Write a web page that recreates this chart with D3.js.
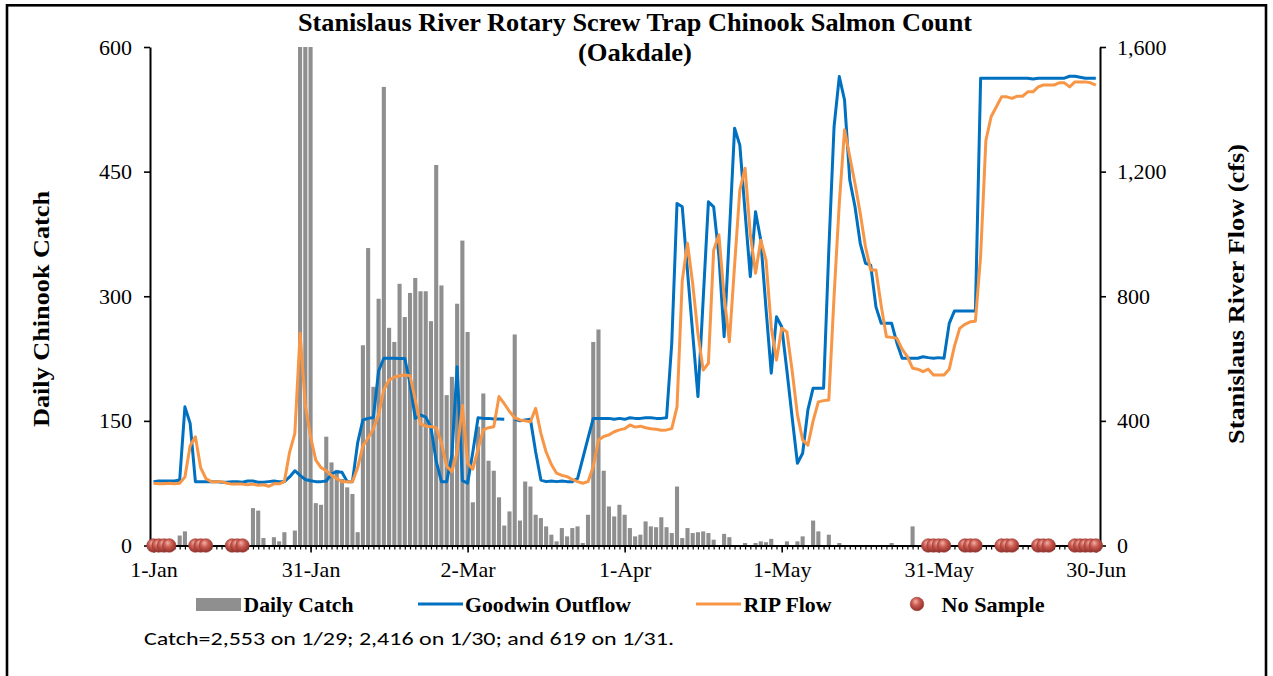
<!DOCTYPE html>
<html>
<head>
<meta charset="utf-8">
<script src="https://cdn.jsdelivr.net/npm/d3@7"></script>
<style>
  body { margin: 0; background: #fff; }
  svg { display: block; }
</style>
</head>
<body>
<svg id="chart" width="1273" height="676"></svg>
<script>
// Daily values, 1-Jan (day 0) through 30-Jun (day 180)
const dailyCatch = [
  0,0,0,0,0,12,17,0,0,0,
  0,0,0,0,0,0,0,0,0,45,
  42,9,0,10,5,16,0,18,2553,2416,
  619,51,49,131,100,91,80,70,62,16,
  241,358,191,297,552,262,245,315,275,304,
  322,306,306,270,458,313,181,203,291,367,
  257,52,143,183,102,90,58,24,41,254,
  30,77,71,37,33,23,13,5,21,11,
  21,23,3,37,245,260,90,47,35,49,
  37,21,11,13,29,23,22,34,22,15,
  71,9,21,15,16,17,15,7,0,14,
  10,0,0,3,0,3,5,4,8,0,
  0,5,0,5,11,0,30,17,0,13,
  0,3,0,0,0,0,0,0,0,0,
  0,3,0,0,0,23,0,0,0,0,
  0,0,0,0,0,0,0,0,0,0,
  0,0,0,0,0,0,0,0,0,0,
  0,0,0,0,0,0,0,0,0,0,0
];

const goodwinOutflow = [
  205,207,207,207,207,210,445,392,205,205,
  205,205,205,203,203,205,205,203,207,207,
  203,203,205,207,205,205,220,240,225,212,
  208,205,205,207,230,237,235,205,205,330,
  403,408,411,560,601,601,601,600,600,520,
  408,419,412,380,270,205,205,290,574,208,
  200,300,410,408,408,406,406,405,null,405,
  400,403,405,300,210,205,207,205,207,205,
  205,215,280,345,408,408,408,408,405,408,
  405,410,408,408,410,410,408,408,410,650,
  1098,1087,880,680,478,790,1103,1087,930,670,
  1000,1339,1285,1070,863,1071,980,760,553,734,
  702,560,410,264,296,435,505,505,505,950,
  1344,1505,1430,1173,1087,970,906,900,766,713,
  713,713,650,601,601,601,601,606,603,601,
  603,601,713,753,753,753,753,753,1500,1500,
  1500,1500,1500,1500,1500,1500,1500,1500,1497,1500,
  1500,1500,1500,1500,1500,1506,1506,1503,1500,1500,1500
];

const ripFlow = [
  200,198,198,200,198,200,220,320,349,250,
  215,205,205,205,200,197,197,197,195,197,
  193,195,190,198,198,205,300,360,681,450,
  349,274,250,240,225,215,205,205,205,250,
  320,345,375,420,500,531,540,545,547,545,
  467,390,383,381,378,330,255,237,300,450,
  265,245,310,371,378,381,478,455,430,410,
  403,400,397,440,360,300,260,232,225,221,
  212,205,200,205,253,339,350,355,365,371,
  375,387,380,383,378,375,373,370,371,375,
  445,850,970,840,680,563,585,948,997,800,
  654,900,1141,1211,1000,874,980,916,700,595,
  697,685,560,420,339,322,400,461,465,467,
  800,1098,1334,1248,1162,1066,959,884,884,770,
  670,668,665,630,606,569,566,558,566,547,
  547,547,566,640,697,710,718,720,930,1300,
  1376,1408,1440,1440,1435,1442,1442,1456,1456,1472,
  1478,1478,1478,1485,1485,1472,1488,1488,1488,1485,1478
];

// Days on which the trap was not sampled
const noSampleDays = [0,1,2,3,8,9,10,15,16,17,148,149,150,151,155,156,157,162,163,164,169,170,171,176,177,178,179,180];

const xTickDays = [0,30,60,90,120,150,180];
const xTickLabels = ["1-Jan","31-Jan","2-Mar","1-Apr","1-May","31-May","30-Jun"];
const catchTicks = [0,150,300,450,600];
const flowTicks = [0,400,800,1200,1600];

const svg = d3.select("#chart");
const serif = "'Liberation Serif','Times New Roman',serif";
const plot = { left: 150, right: 1100, top: 47, bottom: 545.5 };

const x = d3.scaleLinear().domain([-0.67, 180.8]).range([plot.left, plot.right]);
const yCatch = d3.scaleLinear().domain([0, 600]).range([plot.bottom, plot.top]);
const yFlow = d3.scaleLinear().domain([0, 1600]).range([plot.bottom, plot.top]);

// outer frame
svg.append("rect")
  .attr("x", 7).attr("y", 5.3).attr("width", 1259).attr("height", 800)
  .attr("fill", "none").attr("stroke", "#000").attr("stroke-width", 2.6);

// gradient for the "No Sample" markers
const defs = svg.append("defs");
const grad = defs.append("radialGradient").attr("id", "ball")
  .attr("cx", "45%").attr("cy", "40%").attr("r", "60%").attr("fx", "38%").attr("fy", "30%");
grad.append("stop").attr("offset", "0%").attr("stop-color", "#f0b3a8");
grad.append("stop").attr("offset", "45%").attr("stop-color", "#cd5c52");
grad.append("stop").attr("offset", "100%").attr("stop-color", "#8e2f2a");

// catch bars (clipped at the top of the catch axis)
const barW = 4.1;
svg.append("g").selectAll("rect")
  .data(dailyCatch.map((v, i) => ({ day: i, v })).filter(d => d.v > 0))
  .join("rect")
  .attr("x", d => x(d.day) - barW / 2)
  .attr("y", d => yCatch(Math.min(d.v, 600)))
  .attr("width", barW)
  .attr("height", d => yCatch(0) - yCatch(Math.min(d.v, 600)))
  .attr("fill", "#8f8f8f");

// flow lines
const flowLine = d3.line()
  .defined(d => d != null)
  .x((d, i) => x(i))
  .y(d => yFlow(d));

svg.append("path").datum(goodwinOutflow)
  .attr("d", flowLine)
  .attr("fill", "none").attr("stroke", "#0070c0").attr("stroke-width", 3)
  .attr("stroke-linejoin", "round");

svg.append("path").datum(ripFlow)
  .attr("d", flowLine)
  .attr("fill", "none").attr("stroke", "#f79646").attr("stroke-width", 3)
  .attr("stroke-linejoin", "round");

// axes
function styleAxis(g) {
  g.select(".domain").attr("stroke", "#000").attr("stroke-width", 2);
  g.selectAll(".tick line").attr("stroke", "#000").attr("stroke-width", 1.6);
}

const minorAxis = svg.append("g")
  .attr("transform", `translate(0,${plot.bottom})`)
  .call(d3.axisBottom(x).tickValues(d3.range(0, 181)).tickSize(4).tickSizeOuter(0).tickFormat(""));
styleAxis(minorAxis);
minorAxis.selectAll(".tick line").attr("stroke-width", 1.2);

const xAxis = svg.append("g")
  .attr("transform", `translate(0,${plot.bottom})`)
  .call(d3.axisBottom(x).tickValues(xTickDays).tickSize(7).tickSizeOuter(0)
    .tickFormat((d, i) => xTickLabels[i]));
styleAxis(xAxis);
xAxis.select(".domain").remove();
xAxis.selectAll(".tick text")
  .attr("font-family", serif).attr("font-size", 22).attr("fill", "#000")
  .attr("y", 16).attr("dy", "0.71em");

const yAxisL = svg.append("g")
  .attr("transform", `translate(${plot.left},0)`)
  .call(d3.axisLeft(yCatch).tickValues(catchTicks).tickSize(6).tickSizeOuter(0));
styleAxis(yAxisL);
yAxisL.selectAll(".tick text")
  .attr("font-family", serif).attr("font-size", 22).attr("fill", "#000").attr("x", -18);

const yAxisR = svg.append("g")
  .attr("transform", `translate(${plot.right},0)`)
  .call(d3.axisRight(yFlow).tickValues(flowTicks).tickSize(6).tickSizeOuter(0)
    .tickFormat(d3.format(",")));
styleAxis(yAxisR);
yAxisR.selectAll(".tick text")
  .attr("font-family", serif).attr("font-size", 22).attr("fill", "#000").attr("x", 17);

// no-sample markers sitting on the date axis
svg.append("g").selectAll("circle")
  .data(noSampleDays)
  .join("circle")
  .attr("cx", d => x(d))
  .attr("cy", yCatch(0))
  .attr("r", 6.8)
  .attr("fill", "url(#ball)")
  .attr("stroke", "#9a3b35").attr("stroke-width", 0.6);

// titles
svg.append("text")
  .attr("x", 635).attr("y", 31).attr("text-anchor", "middle")
  .attr("font-family", serif).attr("font-weight", "bold").attr("font-size", 25)
  .attr("textLength", 674).attr("lengthAdjust", "spacingAndGlyphs")
  .text("Stanislaus River Rotary Screw Trap Chinook Salmon Count");
svg.append("text")
  .attr("x", 635).attr("y", 61).attr("text-anchor", "middle")
  .attr("font-family", serif).attr("font-weight", "bold").attr("font-size", 25)
  .attr("textLength", 114).attr("lengthAdjust", "spacingAndGlyphs")
  .text("(Oakdale)");

svg.append("text")
  .attr("transform", "translate(49,309) rotate(-90)")
  .attr("text-anchor", "middle")
  .attr("font-family", serif).attr("font-weight", "bold").attr("font-size", 24)
  .attr("textLength", 236).attr("lengthAdjust", "spacingAndGlyphs")
  .text("Daily Chinook Catch");

svg.append("text")
  .attr("transform", "translate(1244,294) rotate(-90)")
  .attr("text-anchor", "middle")
  .attr("font-family", serif).attr("font-weight", "bold").attr("font-size", 24)
  .attr("textLength", 300).attr("lengthAdjust", "spacingAndGlyphs")
  .text("Stanislaus River Flow (cfs)");

// legend
const legend = svg.append("g").attr("font-family", serif).attr("font-weight", "bold").attr("font-size", 21);
legend.append("rect").attr("x", 196).attr("y", 598).attr("width", 45).attr("height", 13).attr("fill", "#8f8f8f");
legend.append("text").attr("x", 243.5).attr("y", 612).attr("textLength", 110).attr("lengthAdjust", "spacingAndGlyphs").text("Daily Catch");
legend.append("line").attr("x1", 418).attr("x2", 463).attr("y1", 604).attr("y2", 604).attr("stroke", "#0070c0").attr("stroke-width", 3);
legend.append("text").attr("x", 465).attr("y", 612).attr("textLength", 166).attr("lengthAdjust", "spacingAndGlyphs").text("Goodwin Outflow");
legend.append("line").attr("x1", 696).attr("x2", 741).attr("y1", 604).attr("y2", 604).attr("stroke", "#f79646").attr("stroke-width", 3);
legend.append("text").attr("x", 743.5).attr("y", 612).attr("textLength", 88).attr("lengthAdjust", "spacingAndGlyphs").text("RIP Flow");
legend.append("circle").attr("cx", 917).attr("cy", 604).attr("r", 6.8).attr("fill", "url(#ball)").attr("stroke", "#9a3b35").attr("stroke-width", 0.6);
legend.append("text").attr("x", 941.6).attr("y", 612).attr("textLength", 103).attr("lengthAdjust", "spacingAndGlyphs").text("No Sample");

// footnote
svg.append("text")
  .attr("x", 144).attr("y", 645)
  .attr("font-family", "Carlito, Lato, 'Open Sans', sans-serif").attr("font-size", 19)
  .attr("textLength", 530).attr("lengthAdjust", "spacingAndGlyphs")
  .text("Catch=2,553 on 1/29; 2,416 on 1/30; and 619 on 1/31.");
</script>
</body>
</html>
